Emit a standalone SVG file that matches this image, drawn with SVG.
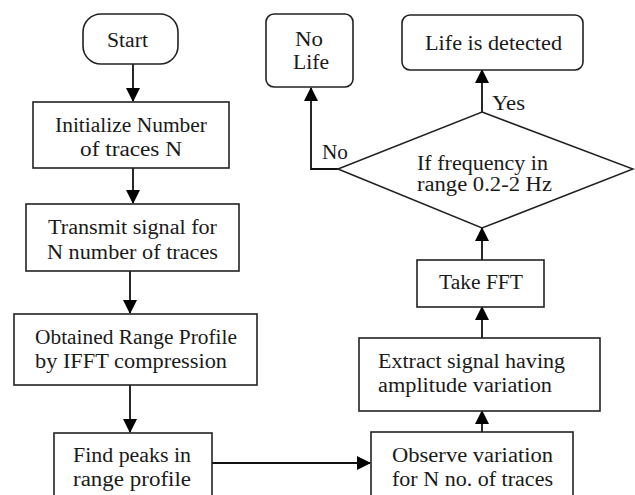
<svg xmlns="http://www.w3.org/2000/svg" width="635" height="495" viewBox="0 0 635 495">
<defs>
<style>
.box{fill:#fff;stroke:#222;stroke-width:1.6}
.t{font-family:'Liberation Serif','Times New Roman',Tinos,'DejaVu Serif',serif;font-size:20px;fill:#1a1a1a;dominant-baseline:central}
.c{text-anchor:middle}
.conn{stroke:#111;stroke-width:1.8;fill:none}
</style>
<marker id="ah" viewBox="0 0 14 14" refX="13" refY="7" markerWidth="14" markerHeight="14" markerUnits="userSpaceOnUse" orient="auto">
<path d="M0,0 L14,7 L0,14 Z" fill="#000"/>
</marker>
</defs>
<rect width="635" height="495" fill="#fff"/>
<g id="connectors">
<line class="conn" x1="133" y1="64" x2="133" y2="101" marker-end="url(#ah)"/>
<line class="conn" x1="133" y1="168" x2="133" y2="203" marker-end="url(#ah)"/>
<line class="conn" x1="130" y1="271" x2="130" y2="313" marker-end="url(#ah)"/>
<line class="conn" x1="130" y1="385" x2="130" y2="432" marker-end="url(#ah)"/>
<line class="conn" x1="212" y1="463" x2="370" y2="463" marker-end="url(#ah)"/>
<line class="conn" x1="482" y1="432" x2="482" y2="411" marker-end="url(#ah)"/>
<line class="conn" x1="482" y1="338" x2="482" y2="307" marker-end="url(#ah)"/>
<line class="conn" x1="482" y1="260" x2="482" y2="228" marker-end="url(#ah)"/>
<line class="conn" x1="482" y1="112" x2="482" y2="70" marker-end="url(#ah)"/>
<polyline class="conn" points="338,169 311,169 311,88" marker-end="url(#ah)"/>
</g>
<g id="start">
<rect class="box" x="83" y="14" width="95" height="50" rx="18" ry="18"/>
<text class="t" x="107" y="40" textLength="41" lengthAdjust="spacingAndGlyphs">Start</text>
</g>
<g id="init">
<rect class="box" x="33" y="102" width="196" height="66"/>
<text class="t" x="55" y="125" textLength="152" lengthAdjust="spacingAndGlyphs">Initialize Number</text>
<text class="t" x="80" y="149" textLength="102" lengthAdjust="spacingAndGlyphs">of traces N</text>
</g>
<g id="transmit">
<rect class="box" x="26" y="204" width="213" height="67"/>
<text class="t" x="48" y="227" textLength="169" lengthAdjust="spacingAndGlyphs">Transmit signal for</text>
<text class="t" x="47" y="252" textLength="171" lengthAdjust="spacingAndGlyphs">N number of traces</text>
</g>
<g id="obtained">
<rect class="box" x="14" y="314" width="243" height="71"/>
<text class="t" x="35" y="337" textLength="202" lengthAdjust="spacingAndGlyphs">Obtained Range Profile</text>
<text class="t" x="35" y="361" textLength="192" lengthAdjust="spacingAndGlyphs">by IFFT compression</text>
</g>
<g id="findpeaks">
<rect class="box" x="54" y="433" width="158" height="80"/>
<text class="t" x="73" y="455" textLength="118" lengthAdjust="spacingAndGlyphs">Find peaks in</text>
<text class="t" x="73" y="479" textLength="118" lengthAdjust="spacingAndGlyphs">range profile</text>
</g>
<g id="observe">
<rect class="box" x="371" y="432" width="202" height="80"/>
<text class="t" x="392" y="455" textLength="161" lengthAdjust="spacingAndGlyphs">Observe variation</text>
<text class="t" x="392" y="479" textLength="161" lengthAdjust="spacingAndGlyphs">for N no. of traces</text>
</g>
<g id="extract">
<rect class="box" x="359" y="338" width="241" height="73"/>
<text class="t" x="378" y="361" textLength="187" lengthAdjust="spacingAndGlyphs">Extract signal having</text>
<text class="t" x="378" y="385" textLength="174" lengthAdjust="spacingAndGlyphs">amplitude variation</text>
</g>
<g id="fft">
<rect class="box" x="417" y="260" width="127" height="47"/>
<text class="t" x="439" y="282" textLength="84" lengthAdjust="spacingAndGlyphs">Take FFT</text>
</g>
<g id="decision">
<polygon class="box" points="482,112 633,169 482,228 338,169"/>
<text class="t" x="417" y="163" textLength="131" lengthAdjust="spacingAndGlyphs">If frequency in</text>
<text class="t" x="417" y="184" textLength="135" lengthAdjust="spacingAndGlyphs">range 0.2-2 Hz</text>
</g>
<g id="detected">
<rect class="box" x="402" y="15" width="181" height="55" rx="8" ry="8"/>
<text class="t" x="425" y="43" textLength="137" lengthAdjust="spacingAndGlyphs">Life is detected</text>
</g>
<g id="nolife">
<rect class="box" x="266" y="14" width="87" height="73" rx="8" ry="8"/>
<text class="t" x="295" y="39" textLength="28" lengthAdjust="spacingAndGlyphs">No</text>
<text class="t" x="293" y="62" textLength="36" lengthAdjust="spacingAndGlyphs">Life</text>
</g>
<g id="labels">
<text class="t" x="492" y="103" textLength="33" lengthAdjust="spacingAndGlyphs">Yes</text>
<text class="t" x="322" y="152" textLength="26" lengthAdjust="spacingAndGlyphs">No</text>
</g>
</svg>
